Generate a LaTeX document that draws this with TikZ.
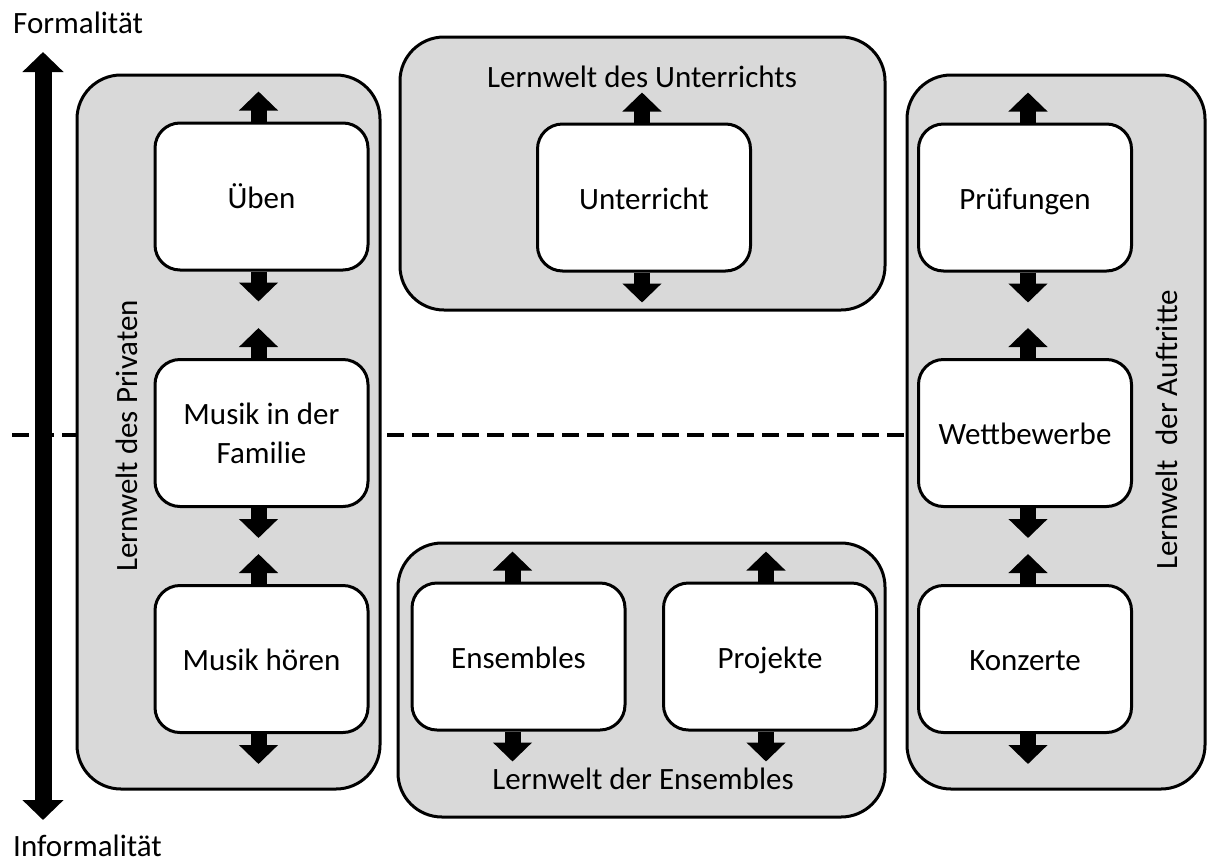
\documentclass[tikz,border=0pt]{standalone}
\usepackage{fontspec}
\setmainfont{Carlito}
\usetikzlibrary{arrows.meta}
\definecolor{lgray}{RGB}{217,217,217}
\begin{document}
\begin{tikzpicture}[x=1pt,y=-1pt,
  every node/.style={font=\fontsize{31}{39}\selectfont},
  world/.style={draw=black,line width=3pt,fill=lgray,rounded corners=44pt,inner sep=0pt},
  item/.style={draw=black,line width=3pt,fill=white,rounded corners=25pt,minimum width=213pt,minimum height=147pt,align=center,inner sep=0pt},
  oneline/.style={item,text height=23pt,text depth=0pt},
  fat/.style={line width=16pt,-{Triangle[width=38pt,length=19pt]}},
  bigaxis/.style={line width=17pt,{Triangle[width=40pt,length=20pt]}-{Triangle[width=40pt,length=20pt]}},
  divider/.style={line width=3.5pt,dash pattern=on 17pt off 8pt},
  lbl/.style={inner sep=0pt}]
\useasboundingbox (0,0) rectangle (1208,863);
% divider
\coordinate (dl) at (12,435);
\coordinate (dr) at (907,435);
\draw[divider] (dl) -- (dr);
% axis
\coordinate (axtop) at (43,52);
\coordinate (axbot) at (43,820);
\draw[bigaxis] (axbot) -- (axtop);
\node[lbl,anchor=base west] (formal) at (13,33) {Formalität};
\node[lbl,anchor=base west] (informal) at (13,856) {Informalität};
% worlds
\node[world,minimum width=303pt,minimum height=714pt] (priv) at (228.5,432) {};
\node[world,minimum width=298pt,minimum height=714pt] (auft) at (1056,432) {};
\node[world,minimum width=485pt,minimum height=273pt] (unterw) at (642.5,173.5) {};
\node[world,minimum width=487pt,minimum height=274pt] (ensw) at (641.5,680) {};
\node[lbl] (tunt) at (642,77) {Lernwelt des Unterrichts};
\node[lbl] (tens) at (643,779) {Lernwelt der Ensembles};
\node[lbl,rotate=90] (tpriv) at (127,436) {Lernwelt des Privaten};
\node[lbl,rotate=90] (tauft) at (1167,430) {Lernwelt~ der Auftritte};
% items
\node[oneline] (ub) at (261.5,196.5) {Üben};
\node[item] (fam) at (261.5,433) {Musik in der\\Familie};
\node[oneline] (hoer) at (261.5,659) {Musik hören};
\node[oneline] (unt) at (644,197.5) {Unterricht};
\node[oneline] (pruef) at (1025,197.5) {Prüfungen};
\node[oneline] (wett) at (1025,433) {Wettbewerbe};
\node[oneline] (konz) at (1025,659) {Konzerte};
\node[oneline] (ens) at (518.5,656.5) {Ensembles};
\node[oneline] (proj) at (770,656.5) {Projekte};
% stub arrows
\foreach \n/\dx in {ub/-3,fam/-3,hoer/-3,unt/-2,pruef/3,wett/3,konz/3,ens/-6,proj/-4}{
  \draw[fat] ([xshift=\dx pt]\n.north) -- ++(0,-30);
  \draw[fat] ([xshift=\dx pt]\n.south) -- ++(0,30);
}
\end{tikzpicture}
\end{document}
